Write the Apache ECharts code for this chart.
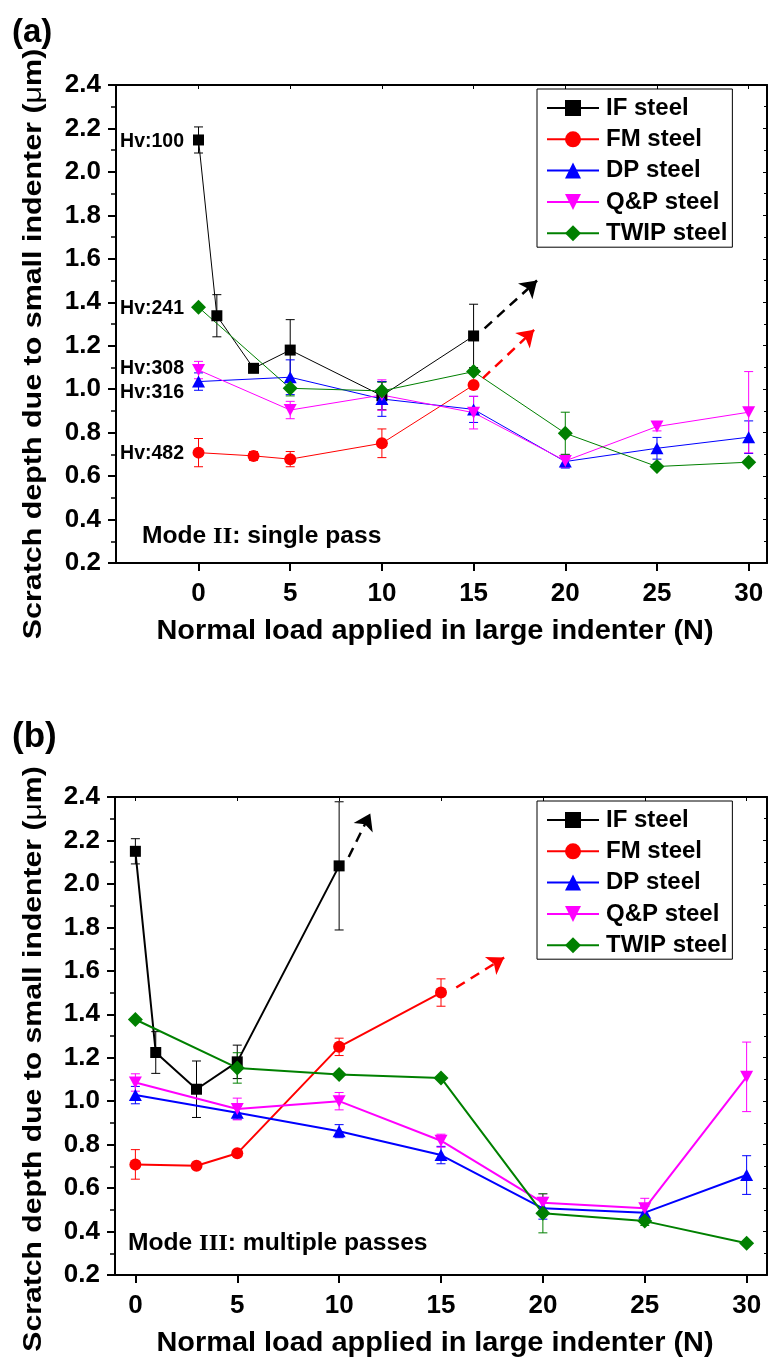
<!DOCTYPE html>
<html>
<head>
<meta charset="utf-8">
<script src="https://cdn.jsdelivr.net/npm/echarts@6/dist/echarts.min.js"></script>
<style>
html,body{margin:0;padding:0;background:#fff;}
#chart{width:769px;height:1361px;}
</style>
</head>
<body>
<div id="chart"></div>
<script>
// ---------- DATA ----------
var seriesNames = ['IF steel', 'FM steel', 'DP steel', 'Q&P steel', 'TWIP steel'];
var xTicks = [0, 5, 10, 15, 20, 25, 30];

// Panel (a): Mode II single pass
var aX_IF = [0, 1, 3, 5, 10, 15];
var aY_IF = [2.147, 1.338, 1.096, 1.180, 0.970, 1.245];
var aE_IF = [0.060, 0.097, 0, 0.140, 0.065, 0.146];
var aX_FM = [0, 3, 5, 10, 15];
var aY_FM = [0.708, 0.693, 0.678, 0.751, 1.019];
var aE_FM = [0.065, 0.020, 0.035, 0.066, 0];
var aX_DP = [0, 5, 10, 15, 20, 25, 30];
var aY_DP = [1.035, 1.055, 0.955, 0.907, 0.667, 0.728, 0.779];
var aE_DP = [0.040, 0.080, 0.080, 0.060, 0.030, 0.050, 0.075];
var aX_QP = [0, 5, 10, 15, 20, 25, 30];
var aY_QP = [1.088, 0.904, 0.973, 0.892, 0.670, 0.828, 0.894];
var aE_QP = [0.040, 0.040, 0.070, 0.075, 0.030, 0.020, 0.187];
var aX_TW = [0, 5, 10, 15, 20, 25, 30];
var aY_TW = [1.377, 1.004, 0.992, 1.081, 0.797, 0.644, 0.664];
var aE_TW = [0, 0.035, 0.040, 0, 0.097, 0, 0];
var aArrowIF = [[15.6, 1.28], [18.46, 1.50]];
var aArrowFM = [[15.5, 1.05], [18.3, 1.273]];
var aHvLabels = ['Hv:100', 'Hv:241', 'Hv:308', 'Hv:316', 'Hv:482'];

// Panel (b): Mode III multiple passes
var bX_IF = [0, 1, 3, 5, 10];
var bY_IF = [2.150, 1.224, 1.055, 1.181, 2.083];
var bE_IF = [0.058, 0.096, 0.130, 0.077, 0.295];
var bX_FM = [0, 3, 5, 10, 15];
var bY_FM = [0.709, 0.703, 0.760, 1.250, 1.500];
var bE_FM = [0.068, 0, 0, 0.040, 0.063];
var bX_DP = [0, 5, 10, 15, 20, 25, 30];
var bY_DP = [1.028, 0.947, 0.862, 0.752, 0.507, 0.487, 0.660];
var bE_DP = [0.040, 0.030, 0.030, 0.040, 0.050, 0.030, 0.089];
var bX_QP = [0, 5, 10, 15, 20, 25, 30];
var bY_QP = [1.086, 0.964, 1.000, 0.818, 0.533, 0.507, 1.112];
var bE_QP = [0.040, 0.050, 0.040, 0.030, 0.040, 0.046, 0.160];
var bX_TW = [0, 5, 10, 15, 20, 25, 30];
var bY_TW = [1.376, 1.153, 1.123, 1.107, 0.484, 0.448, 0.346];
var bE_TW = [0, 0.070, 0, 0, 0.090, 0.020, 0];
var bArrowIF = [[10.47, 2.124], [11.53, 2.324]];
var bArrowFM = [[15.75, 1.523], [18.1, 1.661]];

// ---------- STYLE ----------
var FONT = '"Liberation Sans", Arial, Helvetica, sans-serif';
var SERIF = '"Liberation Serif", "Times New Roman", serif';
var colors = ['#000000', '#ff0000', '#0000ff', '#ff00ff', '#008000'];
var symbols = ['rect', 'circle', 'triangle', 'path://M0,0 L10,0 L5,9 Z', 'diamond'];
var symSizes = [11, 12, [13, 12], [13, 12], 15];

function pts(xs, ys) { return xs.map(function (x, i) { return [x, ys[i]]; }); }
function trip(xs, ys, es) { return xs.map(function (x, i) { return [x, ys[i], es[i]]; }); }

function errRender(color) {
  return function (params, api) {
    var x = api.value(0), y = api.value(1), e = api.value(2);
    if (!e || e <= 0) return null;
    var p0 = api.coord([x, y - e]), p1 = api.coord([x, y + e]);
    var w = 4.5;
    var st = { stroke: color, lineWidth: 1 };
    return {
      type: 'group',
      children: [
        { type: 'line', shape: { x1: p0[0], y1: p0[1], x2: p1[0], y2: p1[1] }, style: st },
        { type: 'line', shape: { x1: p0[0] - w, y1: p0[1], x2: p0[0] + w, y2: p0[1] }, style: st },
        { type: 'line', shape: { x1: p1[0] - w, y1: p1[1], x2: p1[0] + w, y2: p1[1] }, style: st }
      ]
    };
  };
}

var panels = [
  { tag: 'a', xs: [aX_IF, aX_FM, aX_DP, aX_QP, aX_TW], ys: [aY_IF, aY_FM, aY_DP, aY_QP, aY_TW],
    es: [aE_IF, aE_FM, aE_DP, aE_QP, aE_TW], arrows: [[aArrowIF, colors[0]], [aArrowFM, colors[1]]], lw: 1 },
  { tag: 'b', xs: [bX_IF, bX_FM, bX_DP, bX_QP, bX_TW], ys: [bY_IF, bY_FM, bY_DP, bY_QP, bY_TW],
    es: [bE_IF, bE_FM, bE_DP, bE_QP, bE_TW], arrows: [[bArrowIF, colors[0]], [bArrowFM, colors[1]]], lw: 2 }
];

var series = [];
panels.forEach(function (p, pi) {
  for (var k = 0; k < 5; k++) {
    series.push({
      type: 'custom', xAxisIndex: pi * 2, yAxisIndex: pi * 2, z: 2,
      renderItem: errRender(colors[k]), data: trip(p.xs[k], p.ys[k], p.es[k]),
      encode: { x: 0, y: 1 }, silent: true
    });
  }
  for (var k2 = 0; k2 < 5; k2++) {
    series.push({
      type: 'line', name: seriesNames[k2] + '#' + p.tag, xAxisIndex: pi * 2, yAxisIndex: pi * 2, z: 3,
      data: pts(p.xs[k2], p.ys[k2]), symbol: symbols[k2], symbolSize: symSizes[k2],
      showAllSymbol: true,
      lineStyle: { color: colors[k2], width: p.lw }, itemStyle: { color: colors[k2], opacity: 1 },
      emphasis: { disabled: true }, animation: false
    });
  }
  p.arrows.forEach(function (a) {
    series.push({
      type: 'lines', coordinateSystem: 'cartesian2d', xAxisIndex: pi * 2, yAxisIndex: pi * 2, z: 4,
      symbol: ['none', 'arrow'], symbolSize: 16,
      lineStyle: { color: a[1], width: 2.5, type: [10, 7], opacity: 1 },
      data: [{ coords: a[0] }], silent: true, animation: false
    });
  });
});

function mkX(gi, min, pos) {
  var main = pos === 'bottom';
  return {
    type: 'value', gridIndex: gi, min: min, max: 31, position: pos,
    axisLine: { show: true, onZero: false, lineStyle: { color: '#000', width: 2 } },
    axisTick: { show: true, inside: !main, length: main ? 8 : 4, customValues: xTicks, lineStyle: { color: '#000', width: main ? 2 : 1 } },
    axisLabel: main ? { show: true, customValues: xTicks, fontFamily: FONT, fontWeight: 'bold', fontSize: 26, color: '#000', margin: 18 } : { show: false },
    splitLine: { show: false }
  };
}
function mkY(gi, pos) {
  var main = pos === 'left';
  return {
    type: 'value', gridIndex: gi, min: 0.2, max: 2.4, interval: 0.2, position: pos,
    axisLine: { show: true, onZero: false, lineStyle: { color: '#000', width: 2 } },
    axisTick: { show: true, inside: !main, length: main ? 8 : 4, lineStyle: { color: '#000', width: main ? 2 : 1 } },
    minorTick: { show: true, splitNumber: 2, length: main ? 5 : 3, lineStyle: { color: '#000', width: main ? 1.5 : 1 } },
    axisLabel: main ? { show: true, fontFamily: FONT, fontWeight: 'bold', fontSize: 26, color: '#000', margin: 15,
      formatter: function (v) { return v.toFixed(1); } } : { show: false },
    splitLine: { show: false }
  };
}

function legend(tag, top) {
  return {
    left: 537, top: top, orient: 'vertical',
    data: seriesNames.map(function (n) { return n + '#' + tag; }),
    formatter: function (n) { return n.split('#')[0]; },
    itemWidth: 52, itemHeight: 20, itemGap: 7.3, padding: [7, 5, 2, 9],
    borderColor: '#000', borderWidth: 1, borderRadius: 0, backgroundColor: '#fff',
    textStyle: { fontFamily: FONT, fontWeight: 'bold', fontSize: 24, color: '#000', padding: [0, 0, 0, 2] },
    selectedMode: false
  };
}

function txt(x, y, text, size, align, rot, rich, sx) {
  var el = {
    type: 'text', x: x, y: y, z: 10,
    style: {
      text: text, font: 'bold ' + size + 'px ' + FONT, fill: '#000',
      textAlign: align, textVerticalAlign: 'middle', align: align, verticalAlign: 'middle'
    }
  };
  if (rot) el.rotation = rot;
  if (sx) el.scaleX = sx;
  if (rich) el.style.rich = rich;
  return el;
}

var serifRich = { s: { fontFamily: SERIF, fontWeight: 'bold', fontSize: 23, fill: '#000' } };
var muRich = { u: { fontFamily: FONT, fontWeight: 'normal', fontSize: 26, fill: '#000' } };

var graphics = [
  txt(12, 33, '(a)', 33, 'left'),
  txt(12, 737, '(b)', 35, 'left'),
  txt(435, 632, 'Normal load applied in large indenter (N)', 27, 'center', 0, null, 1.07),
  txt(435, 1344, 'Normal load applied in large indenter (N)', 27, 'center', 0, null, 1.07),
  txt(34, 344, 'Scratch depth due to small indenter ({u|μ}m)', 26, 'center', Math.PI / 2, muRich, 1.17),
  txt(34, 1059, 'Scratch depth due to small indenter ({u|μ}m)', 26, 'center', Math.PI / 2, muRich, 1.16),
  txt(142, 537, 'Mode {s|II}: single pass', 23, 'left', 0, serifRich, 1.07),
  txt(128, 1244, 'Mode {s|III}: multiple passes', 23, 'left', 0, serifRich, 1.07),
  txt(184, 142, aHvLabels[0], 19.5, 'right'),
  txt(184, 309, aHvLabels[1], 19.5, 'right'),
  txt(184, 369, aHvLabels[2], 19.5, 'right'),
  txt(184, 393, aHvLabels[3], 19.5, 'right'),
  txt(184, 454, aHvLabels[4], 19.5, 'right')
];

var chart = echarts.init(document.getElementById('chart'), null, { renderer: 'canvas' });
chart.setOption({
  animation: false,
  backgroundColor: '#fff',
  grid: [
    { left: 116, top: 85, width: 651, height: 478 },
    { left: 115, top: 797, width: 652, height: 478 }
  ],
  xAxis: [mkX(0, -4.5, 'bottom'), mkX(0, -4.5, 'top'), mkX(1, -1, 'bottom'), mkX(1, -1, 'top')],
  yAxis: [mkY(0, 'left'), mkY(0, 'right'), mkY(1, 'left'), mkY(1, 'right')],
  legend: [legend('a', 89), legend('b', 801)],
  series: series,
  graphic: graphics
});
</script>
</body>
</html>
